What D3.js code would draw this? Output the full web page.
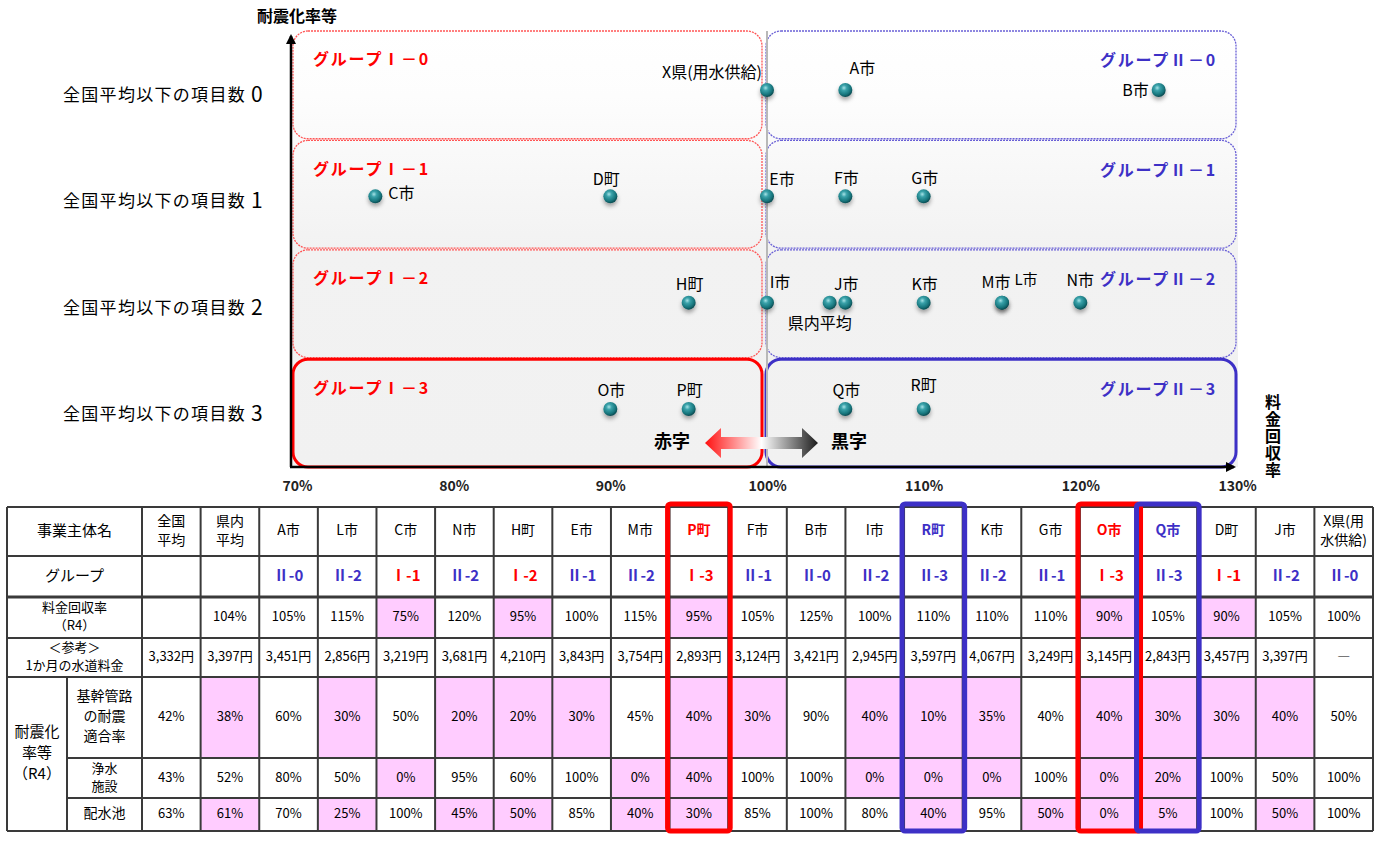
<!DOCTYPE html>
<html>
<head>
<meta charset="utf-8">
<script src="https://cdn.jsdelivr.net/npm/d3@7"></script>
<style>
  body { margin: 0; background: #fff; }
  text { font-family: "Noto Sans CJK JP", "Noto Sans", sans-serif; }
</style>
</head>
<body>
<svg id="chart" width="1382" height="844"></svg>
<script>
// ---- data ----
const entities = ["全国平均", "県内平均", "A市", "L市", "C市", "N市", "H町", "E市", "M市", "P町", "F市",
  "B市", "I市", "R町", "K市", "G市", "O市", "Q市", "D町", "J市", "X県(用水供給)"];
const groups = ["", "", "Ⅱ-0", "Ⅱ-2", "Ⅰ-1", "Ⅱ-2", "Ⅰ-2", "Ⅱ-1", "Ⅱ-2", "Ⅰ-3", "Ⅱ-1",
  "Ⅱ-0", "Ⅱ-2", "Ⅱ-3", "Ⅱ-2", "Ⅱ-1", "Ⅰ-3", "Ⅱ-3", "Ⅰ-1", "Ⅱ-2", "Ⅱ-0"];
const recoveryRate = [null, 104, 105, 115, 75, 120, 95, 100, 115, 95, 105,
  125, 100, 110, 110, 110, 90, 105, 90, 105, 100];
const monthlyFee = [3332, 3397, 3451, 2856, 3219, 3681, 4210, 3843, 3754, 2893, 3124,
  3421, 2945, 3597, 4067, 3249, 3145, 2843, 3457, 3397, null];
const pipeRate = [42, 38, 60, 30, 50, 20, 20, 30, 45, 40, 30, 90, 40, 10, 35, 40, 40, 30, 30, 40, 50];
const plantRate = [43, 52, 80, 50, 0, 95, 60, 100, 0, 40, 100, 100, 0, 0, 0, 100, 0, 20, 100, 50, 100];
const reservoirRate = [63, 61, 70, 25, 100, 45, 50, 85, 40, 30, 85, 100, 80, 40, 95, 50, 0, 5, 100, 50, 100];
// items counted as below the national average (1 = below)
const pipeBelow = [0, 1, 0, 1, 0, 1, 1, 1, 0, 1, 1, 0, 1, 1, 1, 0, 1, 1, 1, 1, 0];
const plantBelow = [0, 0, 0, 0, 1, 0, 0, 0, 1, 1, 0, 0, 1, 1, 1, 0, 1, 1, 0, 0, 0];
const reservoirBelow = [0, 1, 0, 1, 0, 1, 1, 0, 1, 1, 0, 0, 0, 1, 0, 1, 1, 1, 0, 1, 0];
const redHighlight = ["P町", "O市"];
const blueHighlight = ["R町", "Q市"];
const xTicks = [70, 80, 90, 100, 110, 120, 130];
const rowCounts = [0, 1, 2, 3];

const RED = "#ff0000", BLUE = "#3d30c6", PINK = "#ffccff";

const svg = d3.select("#chart");
const defs = svg.append("defs");

// ---- scatter chart ----
const x = d3.scaleLinear().domain([70, 130]).range([297, 1237]);
const y = d3.scaleLinear().domain([0, 3]).range([90, 409]);
const band = d3.scaleBand().domain(rowCounts).range([31, 467]).paddingInner(0.015);

const bg = defs.append("linearGradient").attr("id", "bg").attr("x1", 0).attr("y1", 0).attr("x2", 0).attr("y2", 1);
bg.append("stop").attr("offset", "0%").attr("stop-color", "#ffffff");
bg.append("stop").attr("offset", "15%").attr("stop-color", "#fdfdfd");
bg.append("stop").attr("offset", "50%").attr("stop-color", "#f2f2f2");
bg.append("stop").attr("offset", "100%").attr("stop-color", "#f1f1f1");

svg.append("rect")
  .attr("x", x(70) - 5).attr("y", 31)
  .attr("width", x(130) - x(70) + 6).attr("height", 436)
  .attr("fill", "url(#bg)");

// group boxes
rowCounts.forEach(c => {
  const solid = c === 3;
  svg.append("rect")
    .attr("x", x(70) - 4).attr("y", band(c))
    .attr("width", x(100) - x(70) - 1).attr("height", band.bandwidth())
    .attr("rx", 15)
    .attr("fill", "none")
    .attr("stroke", solid ? RED : "#ff5555")
    .attr("stroke-width", solid ? 3 : 1.3)
    .attr("stroke-dasharray", solid ? null : "2,1");
  svg.append("rect")
    .attr("x", x(100) - 1).attr("y", band(c))
    .attr("width", x(130) - x(100)).attr("height", band.bandwidth())
    .attr("rx", 15)
    .attr("fill", "none")
    .attr("stroke", solid ? BLUE : "#6a60d6")
    .attr("stroke-width", solid ? 3 : 1.3)
    .attr("stroke-dasharray", solid ? null : "2,1");

  svg.append("text")
    .attr("x", x(70) + 16).attr("y", band(c) + 30)
    .attr("dominant-baseline", "middle")
    .attr("fill", RED).attr("font-weight", "bold").attr("font-size", 16).attr("letter-spacing", 1.8)
    .text("グループⅠ－" + c);
  svg.append("text")
    .attr("x", x(130) - 20).attr("y", band(c) + 31)
    .attr("text-anchor", "end").attr("dominant-baseline", "middle")
    .attr("fill", BLUE).attr("font-weight", "bold").attr("font-size", 16).attr("letter-spacing", 1.8)
    .text("グループⅡ－" + c);

  const lab = svg.append("text")
    .attr("x", 63).attr("y", y(c) + 6)
    .attr("dominant-baseline", "middle")
    .attr("font-size", 17).attr("letter-spacing", 1.3);
  lab.append("tspan").text("全国平均以下の項目数 ");
  lab.append("tspan").attr("font-size", 21).text(c);
});

// 100% divider
svg.append("line")
  .attr("x1", x(100)).attr("x2", x(100)).attr("y1", 31).attr("y2", 467)
  .attr("stroke", "#b8b8b8").attr("stroke-width", 2);

// axes
defs.append("marker").attr("id", "arr").attr("viewBox", "0 0 10 10")
  .attr("refX", 8).attr("refY", 5).attr("markerWidth", 4).attr("markerHeight", 4)
  .attr("orient", "auto")
  .append("path").attr("d", "M0,0L10,5L0,10z").attr("fill", "#000");

svg.append("line").attr("x1", 291).attr("y1", 467).attr("x2", 291).attr("y2", 36)
  .attr("stroke", "#000").attr("stroke-width", 2.5).attr("marker-end", "url(#arr)");
svg.append("line").attr("x1", 290).attr("y1", 467).attr("x2", 1234).attr("y2", 467)
  .attr("stroke", "#000").attr("stroke-width", 2.5).attr("marker-end", "url(#arr)");

const xAxis = svg.append("g").attr("transform", "translate(0,478)")
  .call(d3.axisBottom(x).tickValues(xTicks).tickSize(0).tickFormat(d => d + "%"));
xAxis.select(".domain").remove();
xAxis.selectAll("text")
  .attr("font-size", 14).attr("fill", "#222").attr("font-weight", "bold")
  .style("font-family", "\"Noto Sans CJK JP\", sans-serif");

svg.append("text").attr("x", 297).attr("y", 18)
  .attr("text-anchor", "middle").attr("dominant-baseline", "middle")
  .attr("font-size", 16).attr("font-weight", "bold").text("耐震化率等");

svg.append("text").attr("x", 1273).attr("y", 394)
  .style("writing-mode", "vertical-rl")
  .attr("letter-spacing", 1)
  .attr("font-size", 16).attr("font-weight", "bold").text("料金回収率");

// red/black arrow
const ag = defs.append("linearGradient").attr("id", "rb");
ag.append("stop").attr("offset", "0%").attr("stop-color", "#ff1010");
ag.append("stop").attr("offset", "50%").attr("stop-color", "#ffffff");
ag.append("stop").attr("offset", "100%").attr("stop-color", "#1c1c1c");
const ax0 = x(100) - 62, ax1 = x(100) + 51, ay = 443;
svg.append("path")
  .attr("d", `M${ax0},${ay}L${ax0 + 16},${ay - 15}V${ay - 6}H${ax1 - 16}V${ay - 15}L${ax1},${ay}` +
    `L${ax1 - 16},${ay + 15}V${ay + 6}H${ax0 + 16}V${ay + 15}Z`)
  .attr("fill", "url(#rb)");
svg.append("text").attr("x", ax0 - 33).attr("y", ay)
  .attr("text-anchor", "middle").attr("dominant-baseline", "middle")
  .attr("font-size", 18).attr("font-weight", "bold").text("赤字");
svg.append("text").attr("x", ax1 + 31).attr("y", ay)
  .attr("text-anchor", "middle").attr("dominant-baseline", "middle")
  .attr("font-size", 18).attr("font-weight", "bold").text("黒字");

// points
const sphere = defs.append("radialGradient").attr("id", "sphere")
  .attr("cx", "40%").attr("cy", "35%").attr("r", "65%");
sphere.append("stop").attr("offset", "0%").attr("stop-color", "#a6e2e6");
sphere.append("stop").attr("offset", "30%").attr("stop-color", "#3aa2aa");
sphere.append("stop").attr("offset", "75%").attr("stop-color", "#17757c");
sphere.append("stop").attr("offset", "100%").attr("stop-color", "#0c4c52");
const shadow = defs.append("filter").attr("id", "shadow")
  .attr("x", "-50%").attr("y", "-50%").attr("width", "200%").attr("height", "220%");
shadow.append("feDropShadow").attr("dx", 0).attr("dy", 3).attr("stdDeviation", 2)
  .attr("flood-color", "#000").attr("flood-opacity", 0.35);

const points = entities.map((name, i) => ({
  name,
  rate: recoveryRate[i],
  count: pipeBelow[i] + plantBelow[i] + reservoirBelow[i]
})).filter(d => d.rate !== null);

const labelShift = {
  "X県(用水供給)": { dx: -5, dy: -16, anchor: "end" },
  "A市": { dx: 17, dy: -20 },
  "B市": { dx: -10, dy: 2, anchor: "end" },
  "C市": { dx: 13, dy: -2, anchor: "start" },
  "D町": { dx: -4, dy: -16 },
  "E市": { dx: 15, dy: -16 },
  "I市": { dx: 13, dy: -19 },
  "M市": { dx: -6, dy: -19 },
  "L市": { dx: 24, dy: -22 },
  "N市": { dx: 0, dy: -21 },
  "県内平均": { dx: -10, dy: 22 },
  "R町": { dx: 0, dy: -22 }
};

const pg = svg.append("g");
pg.selectAll("circle").data(points).join("circle")
  .attr("cx", d => x(d.rate)).attr("cy", d => y(d.count)).attr("r", 7)
  .attr("fill", "url(#sphere)").attr("filter", "url(#shadow)");
pg.selectAll("text").data(points).join("text")
  .attr("x", d => x(d.rate) + (labelShift[d.name] ? labelShift[d.name].dx : 1))
  .attr("y", d => y(d.count) + (labelShift[d.name] ? labelShift[d.name].dy : -17))
  .attr("text-anchor", d => labelShift[d.name] && labelShift[d.name].anchor ? labelShift[d.name].anchor : "middle")
  .attr("dominant-baseline", "middle")
  .attr("font-size", d => d.name === "L市" ? 15 : 16)
  .text(d => d.name);

// ---- table ----
const rowY = [507, 556, 597, 638, 677, 758, 798, 831];
const col = d3.scaleBand().domain(entities).range([142, 1373]);
const fmt = d3.format(",");
const headerLines = { "全国平均": ["全国", "平均"], "県内平均": ["県内", "平均"], "X県(用水供給)": ["X県(用", "水供給)"] };

const tg = svg.append("g");

function cellText(cx, y0, y1, lines, opts) {
  const n = lines.length, lh = opts.lh || 17;
  const cy = (y0 + y1) / 2;
  lines.forEach((t, k) => {
    tg.append("text")
      .attr("x", cx).attr("y", cy + (k - (n - 1) / 2) * lh)
      .attr("text-anchor", "middle").attr("dominant-baseline", "middle")
      .attr("font-size", opts.size || 13)
      .attr("font-weight", opts.bold ? "bold" : null)
      .attr("fill", opts.color || "#000")
      .text(t);
  });
}

const rowData = [
  { values: entities.map(e => headerLines[e] || [e]) },
  { values: groups.map(g => [g]) },
  { values: recoveryRate.map(v => [v === null ? "" : v + "%"]), pink: recoveryRate.map(v => v !== null && v < 100) },
  { values: monthlyFee.map(v => [v === null ? "―" : fmt(v) + "円"]) },
  { values: pipeRate.map(v => [v + "%"]), pink: pipeBelow.map(Boolean) },
  { values: plantRate.map(v => [v + "%"]), pink: plantBelow.map(Boolean) },
  { values: reservoirRate.map(v => [v + "%"]), pink: reservoirBelow.map(Boolean) }
];

// pink cells
rowData.forEach((row, r) => {
  if (!row.pink) return;
  entities.forEach((e, i) => {
    if (row.pink[i]) {
      tg.append("rect").attr("x", col(e)).attr("y", rowY[r])
        .attr("width", col.bandwidth()).attr("height", rowY[r + 1] - rowY[r])
        .attr("fill", PINK);
    }
  });
});

// grid
const gridColor = "#3a3a3a";
rowY.forEach((yy, r) => {
  const inner = r === 5 || r === 6;
  tg.append("line").attr("x1", inner ? 67 : 7).attr("x2", 1373).attr("y1", yy).attr("y2", yy)
    .attr("stroke", gridColor).attr("stroke-width", r === 2 ? 3 : 2);
});
[7, 142].concat(entities.map(e => col(e))).concat([1373]).forEach(xx => {
  tg.append("line").attr("x1", xx).attr("x2", xx).attr("y1", 507).attr("y2", 831)
    .attr("stroke", gridColor).attr("stroke-width", 2);
});
tg.append("line").attr("x1", 67).attr("x2", 67).attr("y1", 677).attr("y2", 831)
  .attr("stroke", gridColor).attr("stroke-width", 2);

// row labels
cellText(74.5, rowY[0], rowY[1], ["事業主体名"], { size: 15 });
cellText(74.5, rowY[1], rowY[2], ["グループ"], { size: 15 });
cellText(74.5, rowY[2], rowY[3], ["料金回収率", "（R4）"], { size: 13, lh: 18 });
cellText(74.5, rowY[3], rowY[4], ["＜参考＞", "1か月の水道料金"], { size: 13, lh: 18 });
cellText(37, rowY[4], rowY[7], ["耐震化", "率等", "（R4）"], { size: 15, lh: 21 });
cellText(104.5, rowY[4], rowY[5], ["基幹管路", "の耐震", "適合率"], { size: 14, lh: 20 });
cellText(104.5, rowY[5], rowY[6], ["浄水", "施設"], { size: 13, lh: 18 });
cellText(104.5, rowY[6], rowY[7], ["配水池"], { size: 14 });

// values
rowData.forEach((row, r) => {
  entities.forEach((e, i) => {
    const cx = col(e) + col.bandwidth() / 2;
    let opts = { size: 13, lh: 19 };
    if (r === 0) {
      opts.size = 14;
      if (redHighlight.includes(e)) { opts.color = RED; opts.bold = true; }
      if (blueHighlight.includes(e)) { opts.color = BLUE; opts.bold = true; }
    }
    if (r === 1) {
      opts = { size: 15, bold: true, color: groups[i].startsWith("Ⅰ") ? RED : BLUE };
    }
    cellText(cx, rowY[r], rowY[r + 1], row.values[i], opts);
  });
});

// highlight frames
redHighlight.forEach(e => {
  tg.append("rect").attr("x", col(e) - 2).attr("y", 504)
    .attr("width", col.bandwidth() + 4).attr("height", 327).attr("rx", 3)
    .attr("fill", "none").attr("stroke", RED).attr("stroke-width", 5);
});
blueHighlight.forEach(e => {
  tg.append("rect").attr("x", col(e) - 2).attr("y", 504)
    .attr("width", col.bandwidth() + 4).attr("height", 327).attr("rx", 3)
    .attr("fill", "none").attr("stroke", BLUE).attr("stroke-width", 5);
});
</script>
</body>
</html>
